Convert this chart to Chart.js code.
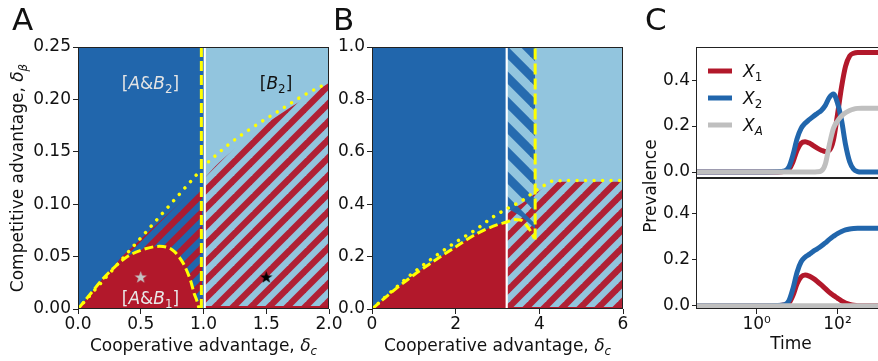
<!DOCTYPE html>
<html><head><meta charset="utf-8">
<script src="https://cdn.jsdelivr.net/npm/chart.js"></script>
<style>
html,body{margin:0;padding:0;background:#fff;overflow:hidden}
#wrap{position:relative;width:878px;height:361px;overflow:hidden;background:#fff}
canvas{position:absolute;top:0}
</style></head><body>
<div id="wrap">
<canvas id="cA" width="345" height="361" style="left:0px"></canvas>
<canvas id="cB" width="308" height="361" style="left:330px"></canvas>
<canvas id="cCt" width="300" height="361" style="left:620px"></canvas>
<canvas id="cCb" width="300" height="361" style="left:620px"></canvas>
</div>
<script>
// ---------------- tick values ----------------
const aXTicks = [0, 0.5, 1.0, 1.5, 2.0];
const aYTicks = [0, 0.05, 0.10, 0.15, 0.20, 0.25];
const bXTicks = [0, 2, 4, 6];
const bYTicks = [0, 0.2, 0.4, 0.6, 0.8, 1.0];
const cXTicks = [1, 100];
const cXTickLabels = ['10\u2070', '10\u00B2'];
const cYTicks = [0, 0.2, 0.4];

// ---------------- panel A data ----------------
const aBgDarkX = [0, 1.005], aBgDarkY = [0.25, 0.25];
const aBgLightX = [1.005, 2.0], aBgLightY = [0.25, 0.25];
const aHatchRX = [1.0, 1.1, 1.25, 1.4, 1.55, 1.7, 1.85, 2.0];
const aHatchRY = [0.124, 0.137, 0.153, 0.168, 0.181, 0.193, 0.204, 0.216];
const aHatchLX = [0, 0.35, 0.99];
const aHatchLY = [0, 0.05, 0.121];
const aDashX = [0, 0.1, 0.2, 0.3, 0.4, 0.5, 0.6, 0.65, 0.7, 0.75, 0.8, 0.85, 0.9, 0.925, 0.947, 0.965];
const aDashY = [0, 0.0145, 0.029, 0.041, 0.0505, 0.056, 0.0593, 0.0598, 0.0592, 0.0565, 0.0505, 0.041, 0.026, 0.015, 0.008, 0.0];
const aDotLX = [0, 0.97], aDotLY = [0, 0.1315];
const aDotRX = [1.04, 1.2, 1.4, 1.6, 1.8, 1.97];
const aDotRY = [0.1405, 0.157, 0.174, 0.189, 0.204, 0.2145];
const aBaseX = [1.01, 2.0], aBaseY = [0.0019, 0.0019];
const aWhiteX = [1.01, 1.01], aWhiteY = [0, 0.25];
const aVDashX = [0.983, 0.983], aVDashY = [0, 0.25];
const aStarX = [0.5, 1.5], aStarY = [0.03, 0.03];
const aLabelX = [0.578, 1.578, 0.578];
const aLabelY = [0.2155, 0.2155, 0.0105];
const aLabelText = [
  [['[', 'n'], ['A', 'i'], ['&', 'n'], ['B', 'i'], ['2', 'sub'], [']', 'n']],
  [['[', 'n'], ['B', 'i'], ['2', 'sub'], [']', 'n']],
  [['[', 'n'], ['A', 'i'], ['&', 'n'], ['B', 'i'], ['1', 'sub'], [']', 'n']]
];
const aLabelColors = ['#e4e4e4', '#111111', '#e8e8e8'];

// ---------------- panel B data ----------------
const bBgDarkX = [0, 3.22], bBgDarkY = [1, 1];
const bBgLightX = [3.22, 6], bBgLightY = [1, 1];
const bHatchTopX = [3.22, 3.6, 3.9, 4.1, 4.3, 4.6, 6];
const bHatchTopY = [0.37, 0.405, 0.44, 0.462, 0.48, 0.486, 0.486];
const bBlueHatchX = [3.22, 3.5, 3.7, 3.9];
const bBlueHatchY = [0.385, 0.36, 0.335, 0.305];
const bRedX = [0, 0.5, 1, 1.5, 2, 2.5, 3, 3.22];
const bRedY = [0, 0.068, 0.13, 0.185, 0.237, 0.287, 0.322, 0.332];
const bDashX = [0, 0.5, 1, 1.5, 2, 2.5, 3, 3.22, 3.4, 3.55, 3.7, 3.8, 3.88];
const bDashY = [0, 0.068, 0.13, 0.185, 0.237, 0.287, 0.322, 0.332, 0.342, 0.34, 0.318, 0.295, 0.27];
const bDotX = [0, 0.5, 1, 1.5, 2, 2.5, 2.9, 3.22, 3.6, 3.9, 4.1, 4.3, 4.6, 6];
const bDotY = [0, 0.072, 0.14, 0.2, 0.255, 0.305, 0.352, 0.382, 0.415, 0.45, 0.47, 0.488, 0.49, 0.49];
const bBaseX = [3.22, 6], bBaseY = [0.004, 0.004];
const bWhiteX = [3.22, 3.22], bWhiteY = [0, 1];
const bVDashX = [3.9, 3.9], bVDashY = [0.265, 1.0];

// ---------------- panel C data ----------------
const cTime = [0.0316, 1, 3.16, 5.01, 6.31, 7.94, 10, 12.6, 15.8, 20.0, 25.1, 31.6, 39.8, 50.1, 63.1, 79.4, 100, 126, 158, 200, 251, 316, 398, 631, 1585];
const cTopX1 = [0, 0, 0.0005, 0.003, 0.012, 0.045, 0.095, 0.125, 0.132, 0.126, 0.115, 0.104, 0.095, 0.089, 0.095, 0.14, 0.25, 0.37, 0.46, 0.505, 0.517, 0.52, 0.52, 0.52, 0.52];
const cTopX2 = [0, 0, 0.001, 0.005, 0.022, 0.075, 0.145, 0.19, 0.212, 0.228, 0.242, 0.255, 0.268, 0.29, 0.325, 0.34, 0.30, 0.225, 0.12, 0.045, 0.012, 0.002, 0, 0, 0];
const cTopXA = [0, 0, 0, 0, 0, 0, 0, 0, 0, 0, 0, 0.001, 0.005, 0.035, 0.12, 0.19, 0.222, 0.244, 0.258, 0.268, 0.274, 0.277, 0.278, 0.278, 0.278];
const cBotX1 = [0, 0, 0.0005, 0.003, 0.012, 0.045, 0.095, 0.125, 0.133, 0.128, 0.118, 0.105, 0.09, 0.074, 0.058, 0.045, 0.033, 0.021, 0.012, 0.006, 0.002, 0, 0, 0, 0];
const cBotX2 = [0, 0, 0.001, 0.005, 0.022, 0.075, 0.145, 0.19, 0.21, 0.222, 0.235, 0.246, 0.258, 0.272, 0.287, 0.3, 0.312, 0.321, 0.328, 0.332, 0.334, 0.335, 0.335, 0.335, 0.335];
const cBotXA = [0, 0, 0, 0, 0, 0, 0, 0, 0, 0, 0, 0, 0, 0, 0, 0, 0, 0, 0, 0, 0, 0, 0, 0, 0];
const cSeriesLabels = ['X1', 'X2', 'XA'];
const cLegendText = [
  [['X', 'i'], ['1', 'sub']],
  [['X', 'i'], ['2', 'sub']],
  [['X', 'i'], ['A', 'isub']]
];

// ---------------- styles ----------------
const RED = '#b2182b', DBLUE = '#2166ac', LBLUE = '#92c5de', YEL = '#ffff00', GREY = '#bfbfbf';
const TXT = '#111111';
const FS = 17;
const FONT = '"DejaVu Sans", sans-serif';
Chart.defaults.font.family = FONT;
Chart.defaults.color = TXT;
Chart.defaults.animation = false;

const xTitle = [['Cooperative advantage, ', 'n'], ['\u03B4', 'i'], ['c', 'isub']];
const aYTitle = [['Competitive advantage, ', 'n'], ['\u03B4', 'i'], ['\u03B2', 'isub']];

function pts(xs, ys) { return xs.map((x, i) => ({x: x, y: ys[i]})); }
function fixTicks(vals) { return function (s) { s.ticks = vals.map(v => ({value: v})); }; }

function drawRich(ctx, parts, x, y, size, color, rot, align) {
  ctx.save();
  ctx.translate(x, y);
  if (rot) ctx.rotate(rot);
  ctx.fillStyle = color;
  ctx.textBaseline = 'alphabetic';
  ctx.textAlign = 'left';
  const segs = parts.map(([t, s]) => {
    const sub = s.indexOf('sub') >= 0;
    const it = s.charAt(0) === 'i';
    const fs = sub ? size * 0.7 : size;
    const font = (it ? 'italic ' : '') + fs + 'px ' + FONT;
    ctx.font = font;
    return {t: t, font: font, w: ctx.measureText(t).width, dy: sub ? size * 0.22 : 0};
  });
  const total = segs.reduce((a, s) => a + s.w, 0);
  let cx = align === 'left' ? 0 : -total / 2;
  const base = size * 0.36;
  for (const s of segs) { ctx.font = s.font; ctx.fillText(s.t, cx, base + s.dy); cx += s.w; }
  ctx.restore();
}

function hatch(ctx, color, P, dir) {
  const c = document.createElement('canvas'); c.width = P; c.height = P;
  const g = c.getContext('2d');
  g.strokeStyle = color; g.lineWidth = P / (2 * Math.SQRT2);
  for (let k = -1; k <= 2; k++) {
    const cc = k * P;
    g.beginPath();
    if (dir === '/') { g.moveTo(cc + P, -P); g.lineTo(cc - 2 * P, 2 * P); }
    else { g.moveTo(cc - P, -P); g.lineTo(cc + 2 * P, 2 * P); }
    g.stroke();
  }
  return ctx.createPattern(c, 'repeat');
}

function starImg(fill, R) {
  const s = Math.ceil(R * 2 + 2);
  const c = document.createElement('canvas'); c.width = s; c.height = s;
  const g = c.getContext('2d'); g.fillStyle = fill; g.beginPath();
  for (let i = 0; i < 10; i++) {
    const r = i % 2 ? R * 0.4 : R;
    const a = -Math.PI / 2 + i * Math.PI / 5;
    g.lineTo(s / 2 + r * Math.cos(a), s / 2 + r * Math.sin(a));
  }
  g.closePath(); g.fill();
  return c;
}

function linScale(min, max, ticks, fmt, fit, tl) {
  return {
    type: 'linear', min: min, max: max,
    afterBuildTicks: fixTicks(ticks),
    afterFit: fit,
    ticks: {font: {size: FS, lineHeight: 1}, color: TXT, padding: 2, maxRotation: 0, autoSkip: false, callback: fmt},
    grid: {drawOnChartArea: false, drawTicks: true, tickLength: tl || 5, color: '#222', lineWidth: 1},
    border: {display: false}
  };
}

function layerSet(layers) {
  return layers.map((d, i) => Object.assign({
    pointRadius: 0, borderColor: 'rgba(0,0,0,0)', borderWidth: 0, fill: false, tension: 0
  }, d, {order: layers.length - i}));
}
const fillDs = (xs, ys, bg, fill, mono) => ({data: pts(xs, ys), backgroundColor: bg, fill: fill, cubicInterpolationMode: mono ? 'monotone' : 'default'});
const lineDs = (xs, ys, color, w, dash, mono) => ({data: pts(xs, ys), borderColor: color, borderWidth: w, borderDash: dash || [],
  borderCapStyle: (dash && dash[0] < 1) ? 'round' : 'butt', cubicInterpolationMode: mono ? 'monotone' : 'default'});

const framePlugin = {
  id: 'frame',
  afterDatasetsDraw(chart) {
    const a = chart.chartArea, ctx = chart.ctx;
    ctx.save(); ctx.strokeStyle = '#222'; ctx.lineWidth = 1;
    ctx.strokeRect(Math.round(a.left) + 0.5, Math.round(a.top) + 0.5, Math.round(a.right - a.left) - 1, Math.round(a.bottom - a.top) - 1);
    ctx.restore();
  }
};
function letter(ctx, t, x) {
  ctx.save(); ctx.font = '31px ' + FONT; ctx.fillStyle = TXT; ctx.textBaseline = 'alphabetic'; ctx.textAlign = 'left';
  ctx.fillText(t, x, 30); ctx.restore();
}
const baseOpts = (pad, scales, extra) => Object.assign({
  responsive: false, animation: false, events: [],
  layout: {padding: pad},
  plugins: {legend: {display: false}, tooltip: {enabled: false}},
  scales: scales
}, extra || {});

// ---------------- Chart A ----------------
const ctxA = document.getElementById('cA').getContext('2d');
const redHatchA = hatch(ctxA, 'rgba(178,24,43,0.95)', 18, '/');
const starGrey = starImg('#c4c4c4', 6.5), starBlack = starImg('#000000', 6.5);
new Chart(ctxA, {
  type: 'line',
  data: {datasets: layerSet([
    fillDs(aBgDarkX, aBgDarkY, DBLUE, 'start'),
    fillDs(aBgLightX, aBgLightY, LBLUE, 'start'),
    fillDs(aHatchRX, aHatchRY, redHatchA, 'start', true),
    fillDs(aHatchLX, aHatchLY, redHatchA, 'start'),
    fillDs(aDashX, aDashY, RED, 'start', true),
    lineDs(aBaseX, aBaseY, RED, 2),
    lineDs(aWhiteX, aWhiteY, '#ffffff', 2.2),
    lineDs(aVDashX, aVDashY, YEL, 3, [10, 4]),
    lineDs(aDashX, aDashY, YEL, 3, [9, 4], true),
    lineDs(aDotLX, aDotLY, YEL, 3.5, [0.001, 8.5]),
    lineDs(aDotRX, aDotRY, YEL, 3.5, [0.001, 8.5], true),
    {data: pts(aStarX, aStarY), showLine: false, pointRadius: 7, pointStyle: [starGrey, starBlack]}
  ])},
  options: baseOpts({top: 47, right: 16, left: 0, bottom: 0}, {
    x: linScale(0, 2, aXTicks, v => v.toFixed(1), s => { s.height = 52; }),
    y: linScale(0, 0.25, aYTicks, v => v.toFixed(2), s => { s.width = 78; })
  }),
  plugins: [framePlugin, {
    id: 'txtA',
    afterDraw(chart) {
      const ctx = chart.ctx, a = chart.chartArea, sx = chart.scales.x, sy = chart.scales.y;
      letter(ctx, 'A', 12);
      drawRich(ctx, xTitle, (a.left + a.right) / 2, 345, FS, TXT);
      drawRich(ctx, aYTitle, 17, (a.top + a.bottom) / 2, FS, TXT, -Math.PI / 2);
      aLabelText.forEach((p, i) => drawRich(ctx, p, sx.getPixelForValue(aLabelX[i]), sy.getPixelForValue(aLabelY[i]), 17, aLabelColors[i]));
    }
  }]
});

// ---------------- Chart B ----------------
const ctxB = document.getElementById('cB').getContext('2d');
const redHatchB = hatch(ctxB, 'rgba(178,24,43,0.95)', 18, '/');
const blueHatchB = hatch(ctxB, 'rgba(33,102,172,0.95)', 25, '\\');
new Chart(ctxB, {
  type: 'line',
  data: {datasets: layerSet([
    fillDs(bBgDarkX, bBgDarkY, DBLUE, 'start'),
    fillDs(bBgLightX, bBgLightY, LBLUE, 'start'),
    fillDs(bHatchTopX, bHatchTopY, redHatchB, 'start', true),
    fillDs(bBlueHatchX, bBlueHatchY, blueHatchB, 'end', true),
    fillDs(bRedX, bRedY, RED, 'start', true),
    lineDs(bBaseX, bBaseY, RED, 2),
    lineDs(bWhiteX, bWhiteY, '#ffffff', 2.2),
    lineDs(bVDashX, bVDashY, YEL, 3, [11, 4]),
    lineDs(bDashX, bDashY, YEL, 3, [9, 4], true),
    lineDs(bDotX, bDotY, YEL, 3.5, [0.001, 8.5], true)
  ])},
  options: baseOpts({top: 47, right: 15, left: 0, bottom: 0}, {
    x: linScale(0, 6, bXTicks, v => v.toFixed(0), s => { s.height = 52; }),
    y: linScale(0, 1, bYTicks, v => v.toFixed(1), s => { s.width = 42; })
  }),
  plugins: [framePlugin, {
    id: 'txtB',
    afterDraw(chart) {
      const ctx = chart.ctx, a = chart.chartArea;
      letter(ctx, 'B', 3);
      drawRich(ctx, xTitle, (a.left + a.right) / 2, 345, FS, TXT);
    }
  }]
});

// ---------------- Chart C ----------------
const cColors = [RED, DBLUE, GREY];
function cSets(vals) {
  return vals.map((v, i) => ({
    label: cSeriesLabels[i], data: pts(cTime, v), borderColor: cColors[i], backgroundColor: cColors[i],
    borderWidth: 5, pointRadius: 0, fill: false, cubicInterpolationMode: 'monotone', order: 3 - i
  }));
}
function logX(display) {
  return {
    type: 'logarithmic', min: 0.0316, max: 1585, display: display,
    afterBuildTicks: fixTicks(cXTicks),
    afterFit: s => { s.height = display ? 52 : 0; },
    ticks: {font: {size: FS, lineHeight: 1}, color: TXT, padding: 2, maxRotation: 0, autoSkip: false, callback: (v, i) => cXTickLabels[i]},
    grid: {drawOnChartArea: false, drawTicks: true, tickLength: 5, color: '#222', lineWidth: 1},
    border: {display: false},
    title: {display: display, text: 'Time', font: {size: FS}, color: TXT, padding: {top: 0, bottom: 5.8}}
  };
}
new Chart(document.getElementById('cCt').getContext('2d'), {
  type: 'line',
  data: {datasets: cSets([cTopX1, cTopX2, cTopXA])},
  options: baseOpts({top: 47, right: 34, left: 0, bottom: 183}, {
    x: logX(false),
    y: linScale(-0.026, 0.544, cYTicks, v => v.toFixed(1), s => { s.width = 76; }, 4)
  }),
  plugins: [framePlugin, {
    id: 'txtCt',
    afterDraw(chart) {
      const ctx = chart.ctx;
      letter(ctx, 'C', 25);
      const rows = [71, 98, 125];
      chart.data.datasets.forEach((d, i) => {
        ctx.save(); ctx.strokeStyle = d.borderColor; ctx.lineWidth = 5; ctx.lineCap = 'butt';
        ctx.beginPath(); ctx.moveTo(88, rows[i]); ctx.lineTo(112, rows[i]); ctx.stroke(); ctx.restore();
        drawRich(ctx, cLegendText[i], 123, rows[i], FS, TXT, 0, 'left');
      });
    }
  }]
});
new Chart(document.getElementById('cCb').getContext('2d'), {
  type: 'line',
  data: {datasets: cSets([cBotX1, cBotX2, cBotXA])},
  options: baseOpts({top: 178, right: 34, left: 0, bottom: 0}, {
    x: logX(true),
    y: linScale(-0.014, 0.552, cYTicks, v => v.toFixed(1), s => { s.width = 76; }, 4)
  }),
  plugins: [framePlugin, {
    id: 'txtCb',
    afterDraw(chart) {
      drawRich(chart.ctx, [['Prevalence', 'n']], 30, 186, FS, TXT, -Math.PI / 2);
    }
  }]
});
</script>
</body></html>
